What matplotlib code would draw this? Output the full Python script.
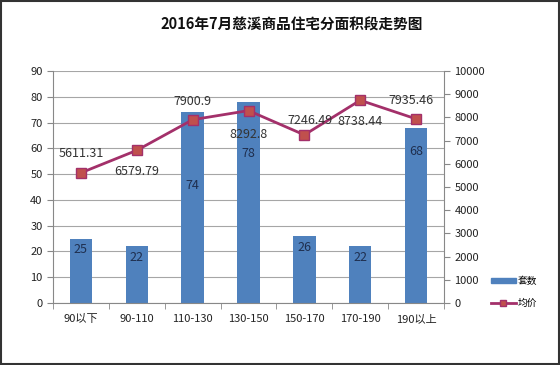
import matplotlib
matplotlib.use("Agg")
import matplotlib.pyplot as plt
from matplotlib.lines import Line2D
from matplotlib.patches import Patch

plt.rcParams['font.family'] = ['Noto Sans CJK SC', 'DejaVu Sans']

categories = ['90以下', '90-110', '110-130', '130-150', '150-170', '170-190', '190以上']
counts = [25, 22, 74, 78, 26, 22, 68]
prices = [5611.31, 6579.79, 7900.9, 8292.8, 7246.49, 8738.44, 7935.46]
price_labels = ['5611.31', '6579.79', '7900.9', '8292.8', '7246.49', '8738.44', '7935.46']
left_ticks = list(range(0, 91, 10))
right_ticks = list(range(0, 10001, 1000))

# label offsets (points)
count_off = [-8, -8, -53, -37, -8, -8, -17]
price_off = [(0, 14), (0, -15), (0, 13), (0, -17), (4, 10), (0, -15), (-4, 13)]

bar_color = '#4F81BD'
line_color = '#A3306A'
marker_face = '#C0504D'

fig = plt.figure(figsize=(5.6, 3.65), dpi=100)
ax = fig.add_axes([53/560, 1-303/365, (444-53)/560, (303-71)/365])
x = list(range(len(categories)))
bars = ax.bar(x, counts, width=0.4, color=bar_color, zorder=2)
ax.set_ylim(0, 90)
ax.set_xlim(-0.5, len(categories) - 0.5)
ax.set_yticks(left_ticks)
ax.set_xticks(x)
ax.set_xticklabels(categories, fontsize=8, color='#222222')
ax.tick_params(axis='y', labelsize=8, colors='#222222', length=4, color='#888888')
ax.tick_params(axis='x', length=0, pad=8)
# category boundary ticks
ax.set_xticks([i - 0.5 for i in range(len(categories) + 1)], minor=True)
ax.tick_params(axis='x', which='minor', length=4, color='#888888')
ax.grid(axis='y', color='#A6A6A6', linewidth=0.8, zorder=0)
ax.set_axisbelow(True)
for s in ['top', 'right']:
    ax.spines[s].set_visible(False)
for s in ['left', 'bottom']:
    ax.spines[s].set_color('#888888')

for xi, c, off in zip(x, counts, count_off):
    ax.annotate(str(c), (xi, c), xytext=(0, off), textcoords='offset points',
                ha='center', va='center', fontsize=9, color='#1F2F4F', zorder=5)

ax2 = ax.twinx()
ax2.plot(x, prices, color=line_color, linewidth=2, marker='s', markersize=7,
         markerfacecolor=marker_face, markeredgecolor=line_color, markeredgewidth=1, zorder=4)
ax2.set_ylim(0, 10000)
ax2.set_yticks(right_ticks)
ax2.tick_params(axis='y', labelsize=8, colors='#222222', length=4, color='#888888')
for s in ['top', 'left', 'bottom']:
    ax2.spines[s].set_visible(False)
ax2.spines['right'].set_color('#888888')
for xi, p, lab, off in zip(x, prices, price_labels, price_off):
    ax2.annotate(lab, (xi, p), xytext=off, textcoords='offset points',
                 ha='center', va='center', fontsize=9, color='#333333', zorder=5)

fig.text(292/560, 1-25/365, '2016年7月慈溪商品住宅分面积段走势图', ha='center', va='center',
         fontsize=10.5, fontweight='bold', color='#111111')

handles = [Patch(facecolor=bar_color, edgecolor=bar_color),
           Line2D([0], [0], color=line_color, linewidth=2, marker='s', markersize=5,
                  markerfacecolor=marker_face, markeredgecolor=line_color)]
fig.legend(handles, ['套数', '均价'], loc='center left', bbox_to_anchor=(482/560, 1-292/365),
           frameon=False, fontsize=7, handlelength=2.6, handleheight=0.5, labelspacing=1.2,
           handletextpad=0.2)

border = plt.Rectangle((0.001, 0.002), 0.997, 0.995, transform=fig.transFigure,
                       fill=False, edgecolor='#333333', linewidth=1.5)
fig.patches.append(border)

fig.savefig('out.png', dpi=100)
